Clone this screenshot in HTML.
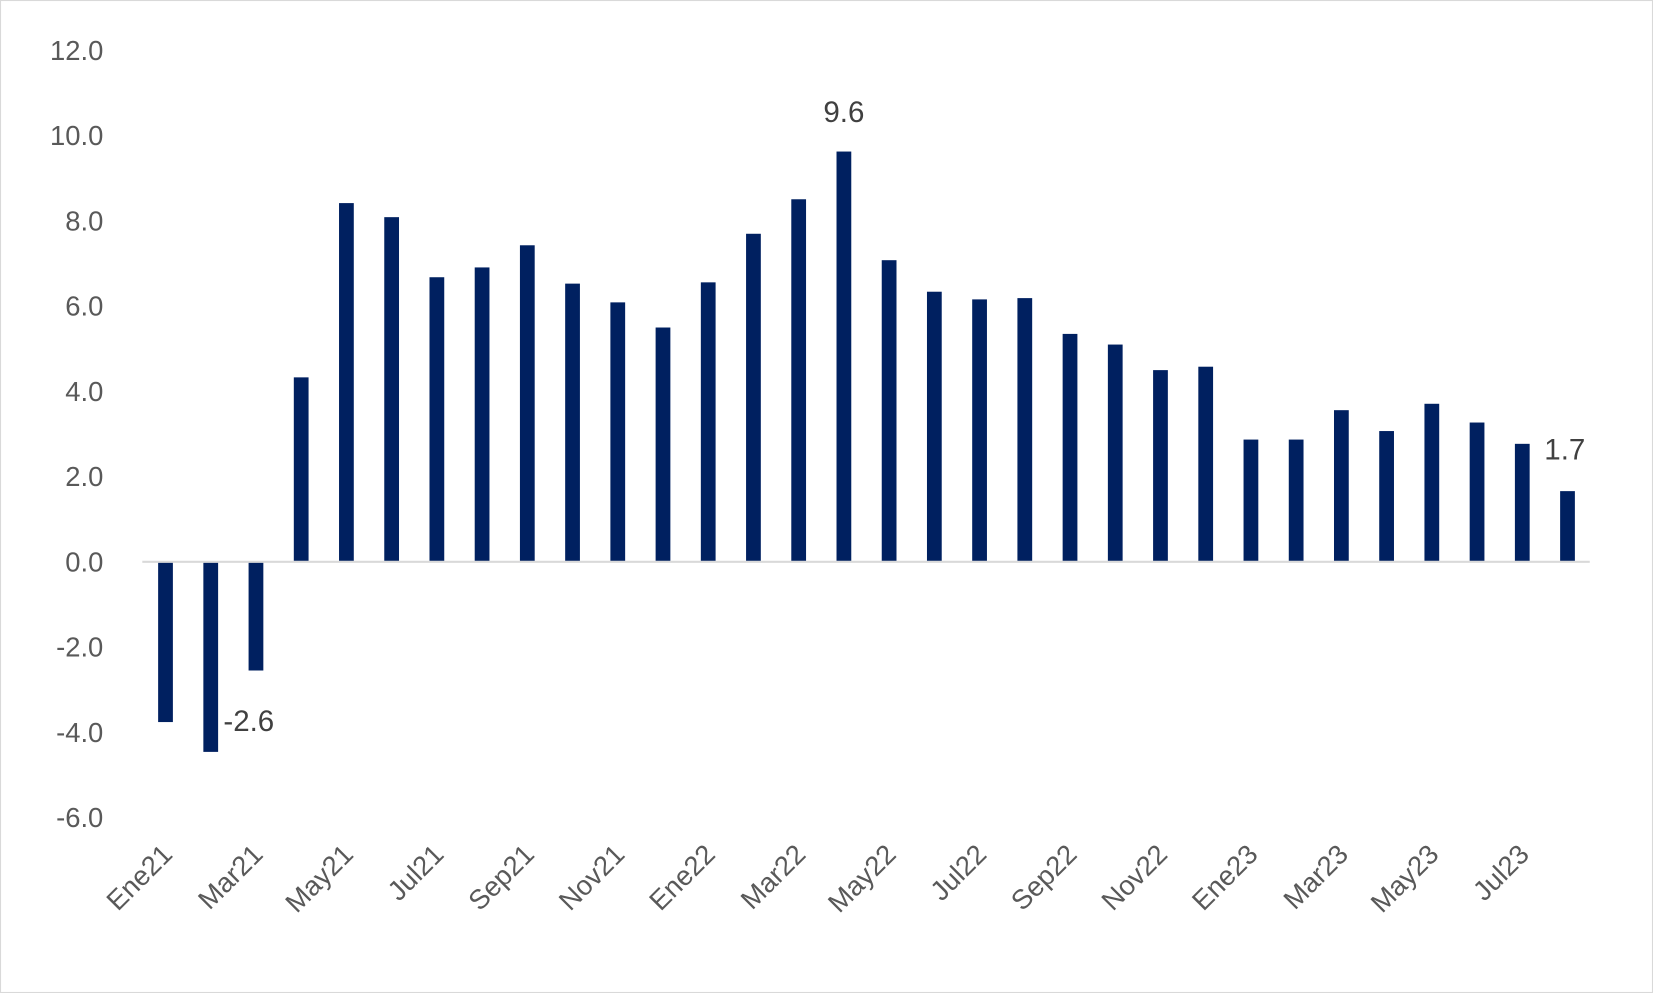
<!DOCTYPE html>
<html><head><meta charset="utf-8"><style>
html,body{margin:0;padding:0;background:#fff}
svg{display:block}
text{font-family:"Liberation Sans",sans-serif;fill:#595959}
</style></head><body>
<svg id="chart" width="1653" height="993" viewBox="0 0 1568 942" preserveAspectRatio="none" xmlns="http://www.w3.org/2000/svg">
<rect x="0.5" y="0.5" width="1567" height="941" fill="#fff" stroke="#d9d9d9"/>
<g id="yaxis"></g>
<g id="bars"></g>
<line id="zero" stroke="#d9d9d9" stroke-width="2"/>
<g id="xaxis"></g>
<g id="labels"></g>
</svg>
<script>
const categories=["Ene21","Feb21","Mar21","Abr21","May21","Jun21","Jul21","Ago21","Sep21","Oct21","Nov21","Dic21","Ene22","Feb22","Mar22","Abr22","May22","Jun22","Jul22","Ago22","Sep22","Oct22","Nov22","Dic22","Ene23","Feb23","Mar23","Abr23","May23","Jun23","Jul23","Ago23"];
const values=[-3.76,-4.46,-2.55,4.33,8.42,8.09,6.68,6.91,7.43,6.53,6.09,5.5,6.56,7.7,8.51,9.63,7.08,6.34,6.16,6.19,5.35,5.1,4.5,4.58,2.87,2.87,3.56,3.07,3.71,3.27,2.77,1.66];
const yTicks=[12,10,8,6,4,2,0,-2,-4,-6];
const labeled=[{i:2,text:"-2.6"},{i:15,text:"9.6"},{i:31,text:"1.7"}];
const NS="http://www.w3.org/2000/svg";
const y=v=>533-v*40.42;
const x=i=>157+i*42.9;
function mk(tag,parent,attrs){const e=document.createElementNS(NS,tag);for(const k in attrs)e.setAttribute(k,attrs[k]);document.getElementById(parent).appendChild(e);return e;}
yTicks.forEach(t=>{const e=mk("text","yaxis",{x:98,y:y(t)+9,"text-anchor":"end","font-size":26});e.textContent=t.toFixed(1);

});
values.forEach((v,i)=>{const e=mk("rect","bars",{x:x(i)-7,width:14,y:Math.min(y(v),y(0)),height:Math.abs(y(v)-y(0)),fill:"#002060"});

});
const z=document.getElementById("zero");z.setAttribute("x1",135);z.setAttribute("x2",1508);z.setAttribute("y1",y(0));z.setAttribute("y2",y(0));
categories.forEach((c,i)=>{if(i%2)return;const cx=x(i)+8,cy=812;const e=mk("text","xaxis",{x:cx,y:cy,"text-anchor":"end","font-size":26,transform:`rotate(-45 ${cx} ${cy})`});e.textContent=c;

});
labeled.forEach(l=>{const v=values[l.i];let tx,ty,anc;
if(l.i===2){tx=x(1)+12;ty=y(values[1])-20;anc="start";}
else if(l.i===31){tx=x(l.i)-22;ty=y(v)-30;anc="start";}
else{tx=x(l.i);ty=y(v)-28;anc="middle";}
const e=mk("text","labels",{x:tx,y:ty,"text-anchor":anc,"font-size":28,style:"fill:#404040"});e.textContent=l.text;

});
</script>
</body></html>
